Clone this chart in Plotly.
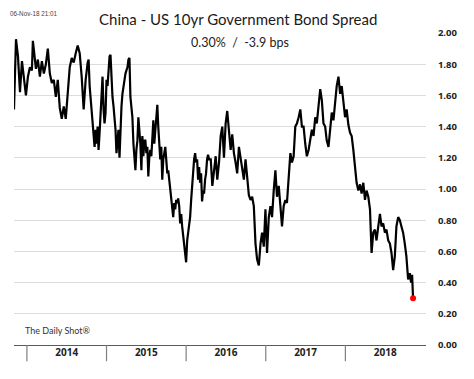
import plotly.graph_objects as go

# Time in fractional years, spread in percentage points
t = [
    2013.838, 2013.863, 2013.888, 2013.913, 2013.938, 2013.963, 2013.988, 2014.013, 2014.038, 2014.063,
    2014.075, 2014.088, 2014.113, 2014.138, 2014.163, 2014.188, 2014.213, 2014.238, 2014.263, 2014.288,
    2014.313, 2014.338, 2014.363, 2014.388, 2014.413, 2014.438, 2014.463, 2014.488, 2014.513, 2014.538,
    2014.563, 2014.588, 2014.613, 2014.638, 2014.663, 2014.688, 2014.713, 2014.738, 2014.763, 2014.775,
    2014.788, 2014.813, 2014.838, 2014.850, 2014.863, 2014.875, 2014.888, 2014.900, 2014.913, 2014.938,
    2014.950, 2014.963, 2014.975, 2014.988, 2015.000, 2015.013, 2015.025, 2015.038, 2015.050, 2015.063,
    2015.075, 2015.088, 2015.100, 2015.113, 2015.125, 2015.138, 2015.150, 2015.163, 2015.175, 2015.188,
    2015.200, 2015.213, 2015.225, 2015.238, 2015.250, 2015.263, 2015.275, 2015.288, 2015.300, 2015.313,
    2015.325, 2015.338, 2015.350, 2015.363, 2015.375, 2015.388, 2015.400, 2015.413, 2015.425, 2015.438,
    2015.450, 2015.463, 2015.475, 2015.488, 2015.500, 2015.513, 2015.525, 2015.538, 2015.550, 2015.563,
    2015.575, 2015.588, 2015.600, 2015.613, 2015.625, 2015.638, 2015.650, 2015.663, 2015.675, 2015.688,
    2015.700, 2015.713, 2015.725, 2015.738, 2015.750, 2015.763, 2015.775, 2015.788, 2015.800, 2015.813,
    2015.825, 2015.838, 2015.850, 2015.863, 2015.875, 2015.888, 2015.900, 2015.913, 2015.925, 2015.938,
    2015.950, 2015.963, 2015.975, 2015.988, 2016.000, 2016.013, 2016.025, 2016.038, 2016.050, 2016.063,
    2016.075, 2016.088, 2016.100, 2016.113, 2016.125, 2016.138, 2016.150, 2016.163, 2016.175, 2016.188,
    2016.200, 2016.213, 2016.225, 2016.238, 2016.250, 2016.263, 2016.275, 2016.288, 2016.309, 2016.329,
    2016.350, 2016.371, 2016.391, 2016.413, 2016.434, 2016.454, 2016.475, 2016.496, 2016.516, 2016.538,
    2016.559, 2016.579, 2016.600, 2016.621, 2016.641, 2016.663, 2016.684, 2016.704, 2016.725, 2016.746,
    2016.766, 2016.788, 2016.809, 2016.829, 2016.850, 2016.871, 2016.891, 2016.913, 2016.934, 2016.954,
    2016.975, 2016.996, 2017.016, 2017.038, 2017.059, 2017.079, 2017.100, 2017.121, 2017.141, 2017.163,
    2017.184, 2017.204, 2017.225, 2017.246, 2017.266, 2017.288, 2017.309, 2017.329, 2017.350, 2017.371,
    2017.391, 2017.413, 2017.434, 2017.454, 2017.475, 2017.496, 2017.516, 2017.538, 2017.559, 2017.579,
    2017.600, 2017.621, 2017.641, 2017.663, 2017.684, 2017.704, 2017.725, 2017.746, 2017.766, 2017.788,
    2017.809, 2017.829, 2017.850, 2017.871, 2017.891, 2017.913, 2017.934, 2017.954, 2017.975, 2017.996,
    2018.016, 2018.038, 2018.059, 2018.079, 2018.100, 2018.121, 2018.141, 2018.163, 2018.184, 2018.204,
    2018.225, 2018.246, 2018.266, 2018.288, 2018.309, 2018.329, 2018.350, 2018.371, 2018.391, 2018.413,
    2018.434, 2018.454, 2018.475, 2018.496, 2018.516, 2018.538, 2018.559, 2018.579, 2018.600, 2018.621,
    2018.641, 2018.663, 2018.684, 2018.704, 2018.725, 2018.746, 2018.766, 2018.788, 2018.809, 2018.825,
    2018.838, 2018.850,
]
spread = [
    1.51, 1.96, 1.85, 1.62, 1.82, 1.70, 1.60, 1.72, 1.78, 1.76,
    1.95, 1.89, 1.77, 1.83, 1.72, 1.82, 1.74, 1.80, 1.90, 1.74,
    1.68, 1.70, 1.59, 1.70, 1.52, 1.45, 1.53, 1.45, 1.59, 1.78,
    1.84, 1.81, 1.87, 1.92, 1.87, 1.72, 1.51, 1.70, 1.81, 1.83,
    1.66, 1.51, 1.38, 1.27, 1.38, 1.29, 1.40, 1.25, 1.36, 1.59,
    1.72, 1.51, 1.42, 1.49, 1.70, 1.66, 1.74, 1.85, 1.86, 1.70,
    1.59, 1.53, 1.46, 1.38, 1.23, 1.31, 1.38, 1.20, 1.38, 1.53,
    1.61, 1.66, 1.70, 1.74, 1.76, 1.78, 1.83, 1.84, 1.59, 1.51,
    1.46, 1.29, 1.23, 1.12, 1.25, 1.31, 1.46, 1.38, 1.29, 1.12,
    1.34, 1.21, 1.31, 1.31, 1.23, 1.27, 1.08, 1.21, 1.25, 1.21,
    1.36, 1.44, 1.29, 1.38, 1.44, 1.54, 1.40, 1.27, 1.19, 1.27,
    1.06, 1.19, 1.23, 1.27, 1.19, 1.10, 1.12, 1.06, 1.02, 0.97,
    0.89, 0.82, 0.91, 0.87, 0.93, 0.91, 0.94, 0.89, 0.78, 0.84,
    0.76, 0.70, 0.65, 0.59, 0.53, 0.67, 0.72, 0.76, 0.82, 0.93,
    1.02, 1.10, 1.19, 1.23, 1.17, 1.19, 1.06, 1.14, 1.04, 1.10,
    0.92, 0.99, 0.97, 1.06, 1.10, 1.19, 1.22, 1.19, 1.19, 1.02,
    1.12, 1.21, 1.06, 1.17, 1.34, 1.40, 1.20, 1.42, 1.50, 1.38,
    1.25, 1.35, 1.23, 1.17, 1.10, 1.27, 1.19, 1.12, 1.06, 1.19,
    1.06, 0.96, 0.93, 0.95, 0.89, 0.65, 0.55, 0.51, 0.65, 0.72,
    0.63, 0.87, 0.59, 0.82, 0.89, 0.82, 0.99, 1.12, 0.95, 1.02,
    0.89, 0.76, 0.89, 0.93, 0.91, 1.06, 1.23, 1.17, 1.21, 1.40,
    1.42, 1.46, 1.51, 1.40, 1.40, 1.29, 1.21, 1.25, 1.31, 1.38,
    1.34, 1.46, 1.42, 1.53, 1.64, 1.57, 1.42, 1.40, 1.31, 1.27,
    1.40, 1.49, 1.44, 1.57, 1.66, 1.72, 1.61, 1.66, 1.55, 1.46,
    1.51, 1.41, 1.36, 1.34, 1.25, 1.14, 1.04, 0.99, 1.03, 0.97,
    1.04, 0.93, 0.99, 0.95, 0.87, 0.59, 0.72, 0.74, 0.67, 0.76,
    0.84, 0.76, 0.78, 0.72, 0.74, 0.67, 0.65, 0.59, 0.48, 0.57,
    0.76, 0.82, 0.80, 0.76, 0.72, 0.65, 0.57, 0.42, 0.46, 0.40,
    0.45, 0.30,
]

years = [2014, 2015, 2016, 2017, 2018]
y_ticks = [0.0, 0.2, 0.4, 0.6, 0.8, 1.0, 1.2, 1.4, 1.6, 1.8, 2.0]

title_text = "China - US 10yr Government Bond Spread"
subtitle_text = "0.30%  /  -3.9 bps"
stamp_text = "06-Nov-18 21:01"
source_text = "The Daily Shot®"

fig = go.Figure()
fig.add_trace(go.Scatter(
    x=t, y=spread, mode="lines",
    line=dict(color="black", width=2.2),
    showlegend=False, hoverinfo="skip",
))
fig.add_trace(go.Scatter(
    x=[t[-1]], y=[spread[-1]], mode="markers",
    marker=dict(color="#ff0000", size=6),
    showlegend=False, hoverinfo="skip", cliponaxis=False,
))

# year separators below the axis
shapes = []
for yr in years:
    shapes.append(dict(type="line", xref="x", yref="paper",
                       x0=yr, x1=yr, y0=0, y1=-0.052,
                       line=dict(color="#7f7f7f", width=1.2)))

fig.update_layout(
    width=466, height=371,
    margin=dict(l=6, r=48, t=25, b=34),
    paper_bgcolor="white", plot_bgcolor="white",
    font=dict(family="Open Sans", color="#222222"),
    shapes=shapes,
    xaxis=dict(
        range=[2013.838, 2019.0125],
        showgrid=False, zeroline=False,
        tickvals=[y + 0.5 for y in years],
        ticktext=[f"<b>{y}</b>" for y in years],
        ticks="", tickfont=dict(size=10, color="#222222", family="Open Sans"),
        showline=False,
    ),
    yaxis=dict(
        range=[0, 2.0], side="right",
        tickvals=y_ticks,
        ticktext=[f"<b>{v:.2f}</b>" for v in y_ticks],
        tickfont=dict(size=9.5, color="#222222", family="Open Sans"),
        showgrid=True, gridcolor="#dcdcdc", gridwidth=1,
        zeroline=True, zerolinecolor="#5a5a5a", zerolinewidth=1.2,
        ticks="outside", ticklen=9, tickcolor="rgba(0,0,0,0)",
        showline=False,
    ),
    annotations=[
        dict(text=title_text, xref="paper", yref="paper", x=0.5425, y=1.079,
             xanchor="center", yanchor="top", showarrow=False,
             font=dict(size=15, family="Lato", color="#1a1a1a")),
        dict(text=stamp_text, xref="paper", yref="paper", x=-0.0146, y=1.061,
             xanchor="left", yanchor="middle", showarrow=False,
             font=dict(size=6.3, family="Liberation Sans", color="#444444")),
        dict(text=subtitle_text, xref="paper", yref="paper", x=0.5485, y=0.971,
             xanchor="center", yanchor="middle", showarrow=False,
             font=dict(size=12.5, family="Lato", color="#222222"),
             bgcolor="white", width=120, height=22),
        dict(text=source_text, xref="paper", yref="paper", x=0.0218, y=0.045,
             xanchor="left", yanchor="middle", showarrow=False,
             font=dict(size=9, family="Lato", color="#333333")),
    ],
)

fig.write_html("out.html")
